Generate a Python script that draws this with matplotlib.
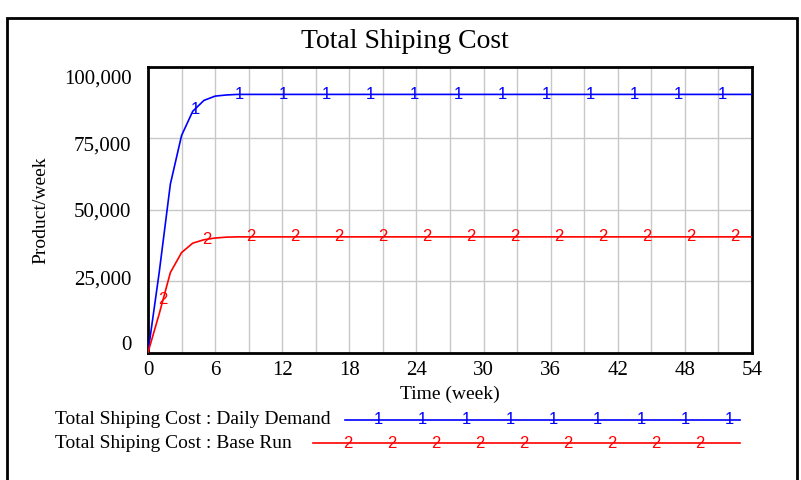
import numpy as np
import matplotlib
matplotlib.use("Agg")
import matplotlib.pyplot as plt
from matplotlib.lines import Line2D
from matplotlib.patches import Rectangle
import matplotlib.transforms as mtransforms

# ---- data ----
time_pts = [0, 1, 2, 3, 4, 5, 6, 7, 8, 54]
daily_demand = [0, 28000, 59000, 76000, 84500, 88300, 89800, 90200, 90400, 90400]
base_run = [0, 13500, 28000, 35000, 38300, 39500, 40100, 40400, 40500, 40500]
x_ticks = [0, 6, 12, 18, 24, 30, 36, 42, 48, 54]
y_ticks = [0, 25000, 50000, 75000, 100000]
y_tick_labels = ["0", "25,000", "50,000", "75,000", "100,000"]
series_names = ["Total Shiping Cost : Daily Demand", "Total Shiping Cost : Base Run"]
title = "Total Shiping Cost"

SERIF = ["Liberation Serif", "DejaVu Serif"]
SANS = ["Liberation Sans", "DejaVu Sans"]
BLUE = "#0000ff"
RED = "#ff0000"

fig = plt.figure(figsize=(8.01, 4.8), dpi=100)
fig.patch.set_facecolor("white")

# outer frame
fig.add_artist(Rectangle((7/801, -0.05), (797-7)/801, 1 + 0.05 - 18/480,
                         transform=fig.transFigure, fill=False,
                         edgecolor="black", linewidth=2))

ax = fig.add_axes([148/801, 1 - 352.5/480, (752-148)/801, (352.5-67)/480])
ax.set_xlim(0, 54)
ax.set_ylim(0, 100000)

# grid
for gx in np.arange(3, 54, 3):
    ax.axvline(gx, color="#c8c8c8", lw=1.0, zorder=0)
for gy in y_ticks[1:-1]:
    ax.axhline(gy, color="#c8c8c8", lw=1.0, zorder=0)

ax.plot(time_pts, daily_demand, color=BLUE, lw=1.2, zorder=3)
ax.plot(time_pts, base_run, color=RED, lw=1.2, zorder=3)

# series markers ("1" / "2") along the lines
for t in np.arange(4.2, 54, 3.93):
    v = np.interp(t, time_pts, daily_demand)
    ax.text(t, v, "1", color=BLUE, fontsize=12, family=SANS,
            ha="center", va="center", zorder=4)
for t in np.arange(1.34, 54, 3.93):
    v = np.interp(t, time_pts, base_run)
    ax.text(t, v, "2", color=RED, fontsize=12, family=SANS,
            ha="center", va="center", zorder=4)

for s in ax.spines.values():
    s.set_linewidth(2)
    s.set_color("black")

ax.set_xticks(x_ticks)
ax.set_xticklabels([str(v) for v in x_ticks], family=SERIF, fontsize=15)
ax.set_yticks(y_ticks)
ax.set_yticklabels(y_tick_labels, family=SERIF, fontsize=15)
ax.tick_params(axis="both", length=0)
ax.tick_params(axis="y", pad=12)
ax.tick_params(axis="x", pad=6)

offsets_px = [10, 4, 0, -5, -10]  # upward shift of y labels
for lab, off in zip(ax.get_yticklabels(), offsets_px):
    lab.set_transform(lab.get_transform() +
                      mtransforms.ScaledTranslation(0, off / 100, fig.dpi_scale_trans))

ax.set_xlabel("Time (week)", family=SERIF, fontsize=14, labelpad=4)
ax.set_ylabel("Product/week", family=SERIF, fontsize=14, labelpad=10)

fig.text(405/801, 1 - 41/480, title, family=SERIF, fontsize=20,
         ha="center", va="center")

# legend
leg_rows = [(series_names[0], BLUE, "1", 420, 345,
             [378, 422, 466, 510, 553, 597, 641, 685, 729]),
            (series_names[1], RED, "2", 443, 313,
             [348, 392, 436, 480, 524, 568, 612, 656, 700])]
for name, col, mk, ypx, x0, mxs in leg_rows:
    yf = 1 - ypx / 480
    fig.text(55/801, yf, name, family=SERIF, fontsize=14,
             ha="left", va="center")
    fig.add_artist(Line2D([x0/801, 740/801], [yf, yf], color=col, lw=1.2,
                          transform=fig.transFigure))
    for mx in mxs:
        fig.text(mx/801, yf, mk, color=col, fontsize=12, family=SANS,
                 ha="center", va="center")

fig.savefig("out.png", dpi=100)
